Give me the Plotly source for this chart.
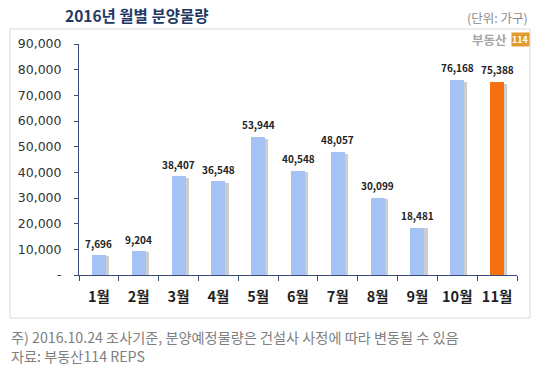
import plotly.graph_objects as go

months = ["1월", "2월", "3월", "4월", "5월", "6월", "7월", "8월", "9월", "10월", "11월"]
supply = [7696, 9204, 38407, 36548, 53944, 40548, 48057, 30099, 18481, 76168, 75388]
bar_colors = ["#A4C2F4"] * 10 + ["#F57010"]
y_ticks = [0, 10000, 20000, 30000, 40000, 50000, 60000, 70000, 80000, 90000]
y_tick_text = ["-"] + [f"{v:,}" for v in y_ticks[1:]]

W, H = 540, 373
FONT = "Noto Sans CJK KR"
NAVY = "#3A4A7A"


def px(x):
    return x / W


def py(y):
    return 1 - y / H


fig = go.Figure()

# soft shadow behind each bar
fig.add_trace(go.Bar(
    x=months, y=[v * 0.985 for v in supply],
    width=0.35, offset=-0.175 + 0.08,
    marker=dict(color="rgba(90,90,90,0.3)", line=dict(width=0)),
    hoverinfo="skip", showlegend=False,
))
fig.add_trace(go.Bar(
    x=months, y=supply,
    width=0.35, offset=-0.175,
    marker=dict(color=bar_colors, line=dict(width=0)),
    showlegend=False,
))

for m, v in zip(months, supply):
    fig.add_annotation(
        x=m, y=v, xref="x", yref="y", text=f"{v:,}", showarrow=False,
        yshift=12, font=dict(family=FONT, size=10, color="#222222", weight="bold"),
    )

# frame around chart
fig.add_shape(type="rect", xref="paper", yref="paper",
              x0=px(10), x1=px(530), y0=py(318), y1=py(29),
              line=dict(color="#D9D9D9", width=1), layer="below")

# title and unit
fig.add_annotation(xref="paper", yref="paper", x=px(63), y=py(15), xanchor="left", yanchor="middle",
                   text="<b>2016년 월별 분양물량</b>", showarrow=False,
                   font=dict(family=FONT, size=15.5, color="#1F3864"))
fig.add_annotation(xref="paper", yref="paper", x=px(530), y=py(17), xanchor="right", yanchor="middle",
                   text="(단위: 가구)", showarrow=False,
                   font=dict(family=FONT, size=12.5, color="#8C8C8C"))

# logo
fig.add_annotation(xref="paper", yref="paper", x=px(509), y=py(40), xanchor="right", yanchor="middle",
                   text="<b>부동산</b>", showarrow=False,
                   font=dict(family=FONT, size=12.5, color="#A6A6A6"))
fig.add_annotation(xref="paper", yref="paper", x=px(511), y=py(40), xanchor="left", yanchor="middle",
                   text="<b>114</b>", showarrow=False, bgcolor="#E39A2E", borderpad=0,
                   font=dict(family=FONT, size=9, color="white"))

# footnotes
fig.add_annotation(xref="paper", yref="paper", x=px(9), y=py(337), xanchor="left", yanchor="middle",
                   text="주) 2016.10.24 조사기준, 분양예정물량은 건설사 사정에 따라 변동될 수 있음",
                   showarrow=False, font=dict(family=FONT, size=14.2, color="#808080"))
fig.add_annotation(xref="paper", yref="paper", x=px(9), y=py(356), xanchor="left", yanchor="middle",
                   text="자료: 부동산114 REPS",
                   showarrow=False, font=dict(family=FONT, size=14.2, color="#808080"))

fig.update_layout(
    width=W, height=H, autosize=False,
    margin=dict(l=0, r=0, t=0, b=0),
    paper_bgcolor="white", plot_bgcolor="white",
    barmode="overlay", bargap=0,
    xaxis=dict(
        domain=[px(79), px(517)], type="category", range=[-0.5, 10.5],
        showline=True, linecolor=NAVY, linewidth=1,
        ticks="outside", tickson="boundaries", ticklen=5, tickcolor=NAVY,
        showgrid=False, zeroline=False,
        tickfont=dict(family=FONT, size=14.5, color="#1F1F1F", weight="bold"),
        ticklabelstandoff=9, automargin=False,
    ),
    yaxis=dict(
        domain=[py(275), py(44)], range=[0, 90000],
        tickmode="array", tickvals=y_ticks, ticktext=y_tick_text,
        showline=True, linecolor=NAVY, linewidth=1,
        ticks="outside", ticklen=4, tickcolor=NAVY,
        showgrid=False, zeroline=False,
        tickfont=dict(family="DejaVu Sans", size=12.5, color="#333333"),
        ticklabelstandoff=10, automargin=False,
    ),
)

fig.write_html("out.html", config={"displayModeBar": False},
               post_script="document.body.style.margin='0';document.body.style.overflow='hidden';")
